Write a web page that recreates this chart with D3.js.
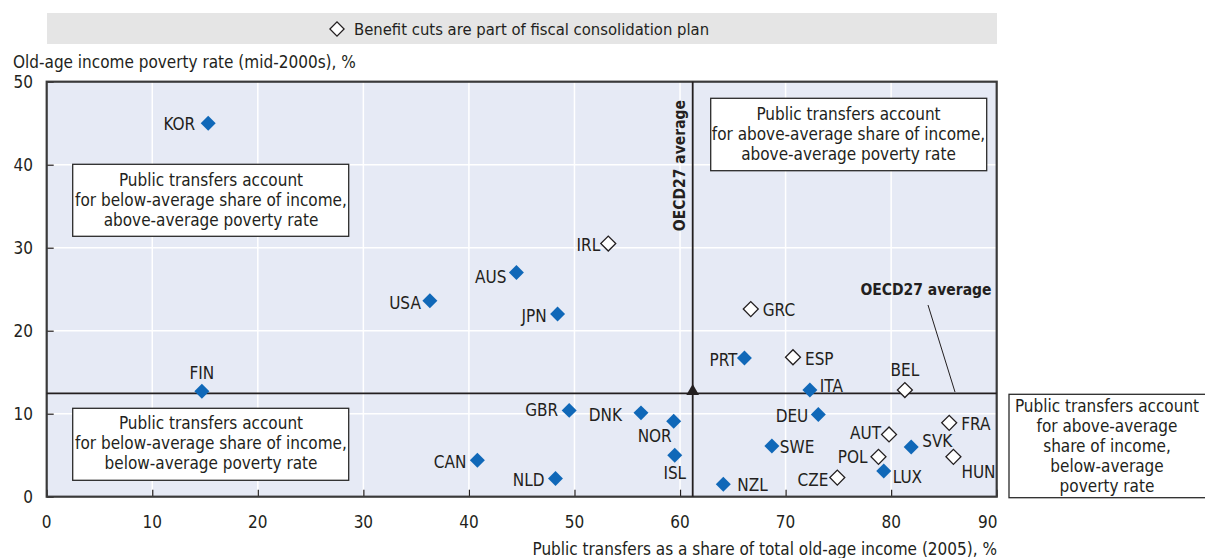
<!DOCTYPE html>
<html>
<head>
<meta charset="utf-8">
<script src="https://cdn.jsdelivr.net/npm/d3@7"></script>
<style>
  body { margin: 0; background: #fff; }
  svg text { font-family: "Liberation Sans Narrow", "DejaVu Sans Condensed", "Arial Narrow", sans-serif; fill: #231f20; }
</style>
</head>
<body>
<svg id="chart" width="1205" height="558"></svg>
<script>
// Country codes, x = public transfers share of old-age income (2005, %), y = old-age poverty rate (mid-2000s, %)
const countries = ['KOR', 'IRL', 'AUS', 'USA', 'JPN', 'GRC', 'FIN', 'PRT', 'ESP', 'ITA', 'BEL', 'GBR', 'DNK', 'NOR',
                   'DEU', 'AUT', 'FRA', 'SVK', 'SWE', 'POL', 'HUN', 'LUX', 'CZE', 'ISL', 'CAN', 'NLD', 'NZL'];
const transferShare = [15.3, 53.2, 44.5, 36.3, 48.4, 66.7, 14.7, 66.1, 70.7, 72.3, 81.3, 49.5, 56.3, 59.4,
                       73.1, 79.8, 85.5, 81.9, 68.7, 78.8, 85.9, 79.3, 74.9, 59.5, 40.8, 48.2, 64.1];
const povertyRate = [45.0, 30.5, 27.0, 23.6, 22.0, 22.6, 12.7, 16.7, 16.8, 12.85, 12.85, 10.4, 10.1, 9.1,
                     9.9, 7.5, 8.9, 6.0, 6.1, 4.8, 4.8, 3.1, 2.3, 5.0, 4.4, 2.2, 1.5];
// true = benefit cuts are part of fiscal consolidation plan (hollow marker)
const benefitCuts = [false, true, false, false, false, true, false, false, true, false, true, false, false, false,
                     false, true, true, false, false, true, true, false, true, false, false, false, false];

const oecdAvgX = 61.2;
const oecdAvgY = 12.45;

const xTicks = [0, 10, 20, 30, 40, 50, 60, 70, 80, 90];
const yTicks = [0, 10, 20, 30, 40, 50];

const legendLabel = 'Benefit cuts are part of fiscal consolidation plan';
const yTitle = 'Old-age income poverty rate (mid-2000s), %';
const xTitle = 'Public transfers as a share of total old-age income (2005), %';

const quadrantNotes = [
    ['Public transfers account', 'for below-average share of income,', 'above-average poverty rate'],
    ['Public transfers account', 'for below-average share of income,', 'below-average poverty rate'],
    ['Public transfers account', 'for above-average share of income,', 'above-average poverty rate'],
    ['Public transfers account', 'for above-average', 'share of income,', 'below-average', 'poverty rate']
];

// label offset from marker centre [dx, dy, anchor] (layout only)
const labelPos = {
    KOR: [-13, 1, 'end'], IRL: [-8, 1, 'end'], AUS: [-10, 4, 'end'], USA: [-9, 2, 'end'], JPN: [-11, 2, 'end'],
    GRC: [12, 1, 'start'], FIN: [0, -18, 'middle'], PRT: [-7, 2, 'end'], ESP: [12, 2, 'start'],
    ITA: [10, -4, 'start'], BEL: [0, -20, 'middle'], GBR: [-11, 0, 'end'], DNK: [-19, 2, 'end'],
    NOR: [-19, 15, 'middle'], DEU: [-10, 2, 'end'], AUT: [-8, -1, 'end'], FRA: [12, 1, 'start'],
    SVK: [11, -6, 'start'], SWE: [8, 1, 'start'], POL: [-11, 0, 'end'], HUN: [8, 15, 'start'],
    LUX: [9, 6, 'start'], CZE: [-9, 2, 'end'], ISL: [0, 18, 'middle'], CAN: [-11, 2, 'end'],
    NLD: [-11, 2, 'end'], NZL: [14, 1, 'start']
};

const data = countries.map((c, i) => ({
    code: c, x: transferShare[i], y: povertyRate[i], cut: benefitCuts[i]
}));

const blue = '#1068b8';
const dark = '#231f20';

const svg = d3.select('#chart');
const plot = {left: 46.7, right: 996.7, top: 81.7, bottom: 496.7};

const xScale = d3.scaleLinear().domain([0, 90]).range([plot.left, plot.right]);
const yScale = d3.scaleLinear().domain([0, 50]).range([plot.bottom, plot.top]);

// Legend bar
svg.append('rect')
    .attr('x', 47).attr('y', 13).attr('width', 950).attr('height', 31)
    .attr('fill', '#e5e5e5');
svg.append('path')
    .attr('d', d3.symbol(d3.symbolSquare, 100)())
    .attr('transform', 'translate(337,29) rotate(45)')
    .attr('fill', '#fff').attr('stroke', dark).attr('stroke-width', 1.3);
svg.append('text')
    .attr('x', 354).attr('y', 29).attr('dy', '0.35em')
    .style('font-size', '16.5px')
    .text(legendLabel);

// Plot background
svg.append('rect')
    .attr('x', plot.left).attr('y', plot.top)
    .attr('width', plot.right - plot.left).attr('height', plot.bottom - plot.top)
    .attr('fill', '#e6eaf5');

// Gridlines
svg.append('g').selectAll('line')
    .data(xTicks.slice(1, -1))
    .join('line')
    .attr('x1', d => xScale(d)).attr('x2', d => xScale(d))
    .attr('y1', plot.top).attr('y2', plot.bottom)
    .attr('stroke', '#fff').attr('stroke-width', 1.5);
svg.append('g').selectAll('line')
    .data(yTicks.slice(1, -1))
    .join('line')
    .attr('x1', plot.left).attr('x2', plot.right)
    .attr('y1', d => yScale(d)).attr('y2', d => yScale(d))
    .attr('stroke', '#fff').attr('stroke-width', 1.5);

// Axes with inward ticks
const xAxis = d3.axisTop(xScale).tickValues(xTicks).tickSize(7).tickFormat('');
const yAxis = d3.axisRight(yScale).tickValues(yTicks).tickSize(7).tickFormat('');
svg.append('g').attr('transform', `translate(0,${plot.bottom})`).call(xAxis)
    .call(g => g.select('.domain').remove())
    .selectAll('line').attr('stroke', dark).attr('stroke-width', 1.2);
svg.append('g').attr('transform', `translate(${plot.left},0)`).call(yAxis)
    .call(g => g.select('.domain').remove())
    .selectAll('line').attr('stroke', dark).attr('stroke-width', 1.2);

// Frame
svg.append('rect')
    .attr('x', plot.left).attr('y', plot.top)
    .attr('width', plot.right - plot.left).attr('height', plot.bottom - plot.top)
    .attr('fill', 'none').attr('stroke', '#3a3a3a').attr('stroke-width', 2.2);

// Tick labels
svg.append('g').selectAll('text')
    .data(xTicks)
    .join('text')
    .attr('x', d => d === 90 ? xScale(d) - 9 : xScale(d))
    .attr('y', 522).attr('dy', '0.35em')
    .attr('text-anchor', 'middle')
    .style('font-size', '17px')
    .text(d => d);
svg.append('g').selectAll('text')
    .data(yTicks)
    .join('text')
    .attr('x', 33).attr('y', d => yScale(d)).attr('dy', '0.35em')
    .attr('text-anchor', 'end')
    .style('font-size', '17px')
    .text(d => d);

// Axis titles
svg.append('text')
    .attr('x', 13).attr('y', 62).attr('dy', '0.35em')
    .style('font-size', '17px')
    .text(yTitle);
svg.append('text')
    .attr('x', 997).attr('y', 549).attr('dy', '0.35em')
    .attr('text-anchor', 'end')
    .style('font-size', '17px')
    .text(xTitle);

// Quadrant notes
const noteBoxes = [
    {x: 72.7, y: 164.3, w: 276, h: 72, cx: 211, lines: quadrantNotes[0], ly: 180},
    {x: 72.7, y: 408.3, w: 276, h: 72, cx: 211, lines: quadrantNotes[1], ly: 423.5},
    {x: 710.7, y: 98.3, w: 276, h: 72.4, cx: 848.5, lines: quadrantNotes[2], ly: 114.5},
    {x: 1009, y: 394.3, w: 200, h: 103.4, cx: 1107, lines: quadrantNotes[3], ly: 406}
];
noteBoxes.forEach(b => {
    svg.append('rect')
        .attr('x', b.x).attr('y', b.y).attr('width', b.w).attr('height', b.h)
        .attr('fill', '#fff').attr('stroke', '#2a2a2a').attr('stroke-width', 1.3);
    svg.append('text')
        .attr('text-anchor', 'middle')
        .style('font-size', '17px')
        .selectAll('tspan')
        .data(b.lines)
        .join('tspan')
        .attr('x', b.cx)
        .attr('y', (d, i) => b.ly + i * 20)
        .attr('dy', '0.35em')
        .text(d => d);
});

// OECD average lines
svg.append('line')
    .attr('x1', xScale(oecdAvgX)).attr('x2', xScale(oecdAvgX))
    .attr('y1', plot.top).attr('y2', plot.bottom)
    .attr('stroke', dark).attr('stroke-width', 1.8);
svg.append('line')
    .attr('x1', plot.left).attr('x2', plot.right)
    .attr('y1', yScale(oecdAvgY)).attr('y2', yScale(oecdAvgY))
    .attr('stroke', dark).attr('stroke-width', 1.8);
svg.append('path')
    .attr('d', d3.symbol(d3.symbolTriangle, 70)())
    .attr('transform', `translate(${xScale(oecdAvgX)},${yScale(oecdAvgY) - 2})`)
    .attr('fill', dark);

svg.append('text')
    .attr('transform', `translate(${xScale(oecdAvgX) - 8},100) rotate(-90)`)
    .attr('text-anchor', 'end')
    .style('font-size', '15.5px').style('font-weight', 'bold')
    .text('OECD27 average');
svg.append('text')
    .attr('x', 926).attr('y', 290).attr('dy', '0.35em')
    .attr('text-anchor', 'middle')
    .style('font-size', '15.5px').style('font-weight', 'bold')
    .text('OECD27 average');
svg.append('line')
    .attr('x1', 928).attr('y1', 305).attr('x2', 955).attr('y2', 392)
    .attr('stroke', dark).attr('stroke-width', 1);

// Markers
const diamond = d3.symbol(d3.symbolSquare, 112)();
svg.append('g').selectAll('path')
    .data(data)
    .join('path')
    .attr('d', diamond)
    .attr('transform', d => `translate(${xScale(d.x)},${yScale(d.y)}) rotate(45)`)
    .attr('fill', d => d.cut ? '#fff' : blue)
    .attr('stroke', d => d.cut ? dark : 'none')
    .attr('stroke-width', 1.3);

// Country labels
svg.append('g').selectAll('text')
    .data(data)
    .join('text')
    .attr('x', d => xScale(d.x) + labelPos[d.code][0])
    .attr('y', d => yScale(d.y) + labelPos[d.code][1])
    .attr('dy', '0.35em')
    .attr('text-anchor', d => labelPos[d.code][2])
    .style('font-size', '17px')
    .text(d => d.code);
</script>
</body>
</html>
